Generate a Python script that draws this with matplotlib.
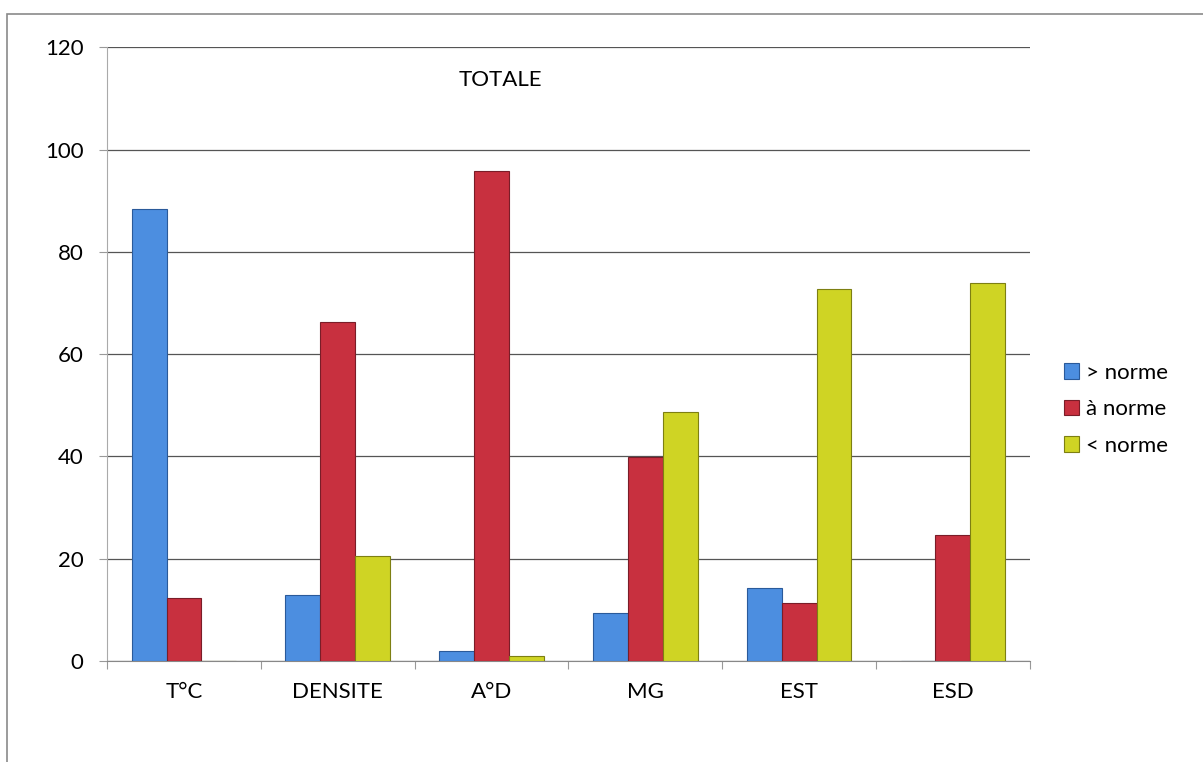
import matplotlib.pyplot as plt
import numpy as np
from matplotlib.patches import Rectangle

plt.rcParams['font.family'] = ['Lato', 'DejaVu Sans']

categories = ['T°C', 'DENSITE', 'A°D', 'MG', 'EST', 'ESD']
above_norm = [88.3, 12.9, 2.0, 9.4, 14.3, 0.0]
at_norm = [12.3, 66.3, 95.8, 39.9, 11.3, 24.6]
below_norm = [0.0, 20.5, 1.0, 48.7, 72.7, 73.9]
series_labels = ['> norme', 'à norme', '< norme']

colors = ['#4c8ee0', '#c8303f', '#cfd424']
edges = ['#2a5a9a', '#7a1d28', '#7d7f12']

fig = plt.figure(figsize=(12.03, 7.62), dpi=100)
ax = fig.add_axes([0.089, 0.1325, 0.767, 0.8055])

# chart frame
fig.patches.append(Rectangle((7 / 1203, -0.05), 1.1, 1 - 14 / 762 + 0.05,
                             transform=fig.transFigure, fill=False,
                             edgecolor='#8a8a8a', linewidth=1.2))

x = np.arange(len(categories))
w = 0.227
for i, vals in enumerate([above_norm, at_norm, below_norm]):
    ax.bar(x + (i - 1) * w, vals, width=w, color=colors[i],
           edgecolor=edges[i], linewidth=0.8, label=series_labels[i], zorder=3)

ax.set_xlim(-0.5, len(categories) - 0.5)
ax.set_ylim(0, 120)
ax.set_yticks(range(0, 121, 20))
ax.yaxis.grid(True, color='#555555', linewidth=0.9)
ax.set_axisbelow(True)

for side in ['top', 'right']:
    ax.spines[side].set_visible(False)
ax.spines['left'].set_color('#aaaaaa')
ax.spines['bottom'].set_color('#888888')

# tick marks between groups, labels at group centres
ax.set_xticks(np.arange(-0.5, len(categories), 1.0))
ax.set_xticklabels([])
ax.set_xticks(x, minor=True)
ax.set_xticklabels(categories, minor=True)
ax.tick_params(axis='x', which='major', length=6, color='#999999')
ax.tick_params(axis='x', which='minor', length=0, pad=15, labelsize=16)
ax.tick_params(axis='y', length=6, color='#999999', pad=11, labelsize=16)

ax.text(0.426, 0.946, 'TOTALE', transform=ax.transAxes, ha='center', va='center',
        fontsize=16)

ax.legend(loc='center left', bbox_to_anchor=(1.015, 0.41), frameon=False,
          fontsize=16, handlelength=0.7, handleheight=0.7, handletextpad=0.3,
          labelspacing=0.75)

fig.savefig('out.png', dpi=100, facecolor='white')
